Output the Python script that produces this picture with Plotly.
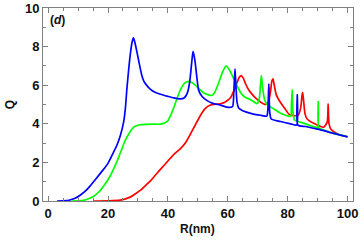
import plotly.graph_objects as go

# Blue series
blue_R = [3, 5, 7, 9, 10.7, 12.5, 14, 16, 18.5, 20, 21.8, 23, 24.1, 25.2, 25.8, 26.3, 26.9, 27.4, 28, 28.5, 29, 29.9,
          30.6, 31.3, 32, 33, 34.1, 35.5, 37.5, 40, 42, 44.1, 45.5, 46.5, 47.3, 47.9, 48.4, 49, 49.6, 50.3, 51.5,
          53.1, 55, 57.5, 60.3, 61.6, 62.0, 62.4, 62.7, 63.1, 63.7, 64.5, 66, 68.6, 71, 73, 73.4, 73.7, 74.0,
          74.5, 77.6, 81, 83.0, 83.2, 83.4, 86, 90, 95, 100]
blue_Q = [0, 0.01, 0.04, 0.14, 0.3, 0.52, 0.77, 1.15, 1.64, 1.95, 2.51, 2.9, 3.38, 4.07, 4.8, 5.8, 6.8, 7.54, 8.2, 8.45, 8.2, 7.54,
          7.0, 6.5, 6.2, 5.98, 5.8, 5.65, 5.53, 5.42, 5.34, 5.29, 5.35, 5.6, 6.2, 7.1, 7.75, 7.3, 6.5, 5.72, 5.4,
          5.2, 5.06, 4.97, 4.85, 4.9, 5.6, 6.85, 6.0, 5.1, 4.8, 4.72, 4.62, 4.5, 4.44, 4.4, 4.8, 6.07, 4.6,
          4.25, 4.12, 4.0, 3.94, 5.5, 3.93, 3.86, 3.72, 3.52, 3.32]

# Green series
green_R = [8, 10, 11.8, 13.5, 15.2, 17, 18.5, 20, 21, 21.8, 22.7, 23.5, 24.4, 25.2, 26, 26.9, 27.7, 28.5, 29.5, 30.8,
           33, 35, 37.5, 39, 40, 40.8, 42, 43, 44, 45, 46, 47.3, 48.5, 50, 52, 53.5, 54.7, 55.7, 57, 58.3, 59.4,
           60.5, 62, 63, 64.2, 65.5, 67.6, 69.8, 70.5, 70.9, 71.2, 71.6, 72.2, 73.1, 75.4, 77.6, 79.8, 81.0, 81.25,
           81.5, 81.75, 82.3, 85, 88.7, 90.0, 90.2, 90.4, 92, 95, 100]
green_Q = [0, 0.01, 0.04, 0.12, 0.25, 0.48, 0.77, 1.1, 1.38, 1.64, 1.95, 2.25, 2.6, 2.94, 3.22, 3.46, 3.66, 3.81, 3.9, 3.95,
           3.97, 3.98, 3.98, 4.05, 4.16, 4.4, 4.85, 5.3, 5.7, 6.0, 6.15, 6.2, 6.08, 5.88, 5.6, 5.5, 5.47, 5.65, 6.15, 6.7, 7.0,
           6.8, 6.33, 6.0, 5.63, 5.4, 5.25, 5.05, 5.3, 6.0, 6.5, 5.9, 5.3, 5.0, 4.77, 4.55, 4.42, 4.38, 5.0,
           5.77, 4.6, 4.2, 4.05, 3.85, 3.82, 5.15, 3.78, 3.68, 3.52, 3.33]

# Red series
red_R = [15, 20, 24.1, 27.4, 29, 30.8, 32.5, 34.1, 35.5, 37.5, 40, 42, 44.1, 46, 47.5, 49, 50.8, 52.5, 54.2, 56, 57.5,
         59, 60.9, 62, 63, 63.8, 64.5, 65.2, 66, 67, 68, 69.5, 71, 72.6, 73.5, 74.2, 74.7, 75.1, 75.5, 76.2, 77.6,
         79, 80.4, 82, 83.5, 84.3, 84.8, 85, 85.3, 85.8, 86.5, 89, 92, 93.2, 93.5, 93.8, 94.5, 97, 100]
red_Q = [0, 0.01, 0.05, 0.2, 0.36, 0.55, 0.8, 1.03, 1.28, 1.64, 2.07, 2.42, 2.7, 3.05, 3.46, 3.9, 4.42, 4.8, 4.97, 5.02, 5.04,
         5.12, 5.35, 5.7, 6.1, 6.4, 6.5, 6.35, 6.05, 5.75, 5.55, 5.3, 5.12, 5.0, 5.1, 5.6, 6.2, 6.33, 6.0, 5.5, 5.1,
         4.8, 4.5, 4.42, 4.45, 4.8, 5.5, 5.63, 5.2, 4.5, 4.25, 4.0, 3.82, 4.1, 5.03, 4.0, 3.7, 3.45, 3.33]

x_ticks = [0, 20, 40, 60, 80, 100]
y_ticks = [0, 2, 4, 6, 8, 10]

fig = go.Figure()
for R, Q, c in [(red_R, red_Q, "#ff0000"), (green_R, green_Q, "#00ff00"), (blue_R, blue_Q, "#0000ff")]:
    fig.add_trace(go.Scatter(x=R, y=Q, mode="lines", line=dict(color=c, width=1.7, shape="spline", smoothing=0.6),
                             showlegend=False, hoverinfo="skip"))

tfont = dict(family="Liberation Sans", size=13, color="#111111", weight="bold")
axis_common = dict(
    showgrid=False, zeroline=False, showline=True, linecolor="#808080", linewidth=1,
    mirror="ticks", ticks="inside", ticklen=5, tickcolor="#808080", tickwidth=1,
    tickfont=tfont, automargin=False,
)
fig.update_xaxes(range=[-1.7, 101.8], tickvals=x_ticks, ticktext=[str(v) for v in x_ticks],
                 minor=dict(ticks="inside", dtick=5, ticklen=3, tickcolor="#808080", showgrid=False),
                 **axis_common)
fig.update_yaxes(range=[0, 10], tickvals=y_ticks, ticktext=[str(v) for v in y_ticks],
                 minor=dict(ticks="inside", dtick=1, ticklen=3, tickcolor="#808080", showgrid=False),
                 **axis_common)
fig.add_annotation(text="<b>(<i>d</i>)</b>", xref="paper", yref="paper", x=0.015, y=0.985,
                   xanchor="left", yanchor="top", showarrow=False,
                   font=dict(family="Liberation Sans", size=12, color="#111111"))
fig.add_annotation(text="<b>R(nm)</b>", xref="paper", yref="paper", x=0.497, y=-0.145,
                   xanchor="center", yanchor="middle", showarrow=False,
                   font=dict(family="Liberation Sans", size=12, color="#111111"))
fig.add_annotation(text="<b>Q</b>", xref="paper", yref="paper", x=-0.106, y=0.497, textangle=-90,
                   xanchor="center", yanchor="middle", showarrow=False,
                   font=dict(family="Liberation Sans", size=12, color="#111111"))
fig.update_layout(width=360, height=245, margin=dict(l=43, r=7, t=8, b=44),
                  plot_bgcolor="white", paper_bgcolor="white")
fig.write_html("out.html", config={"displayModeBar": False},
               post_script="document.body.style.margin='0';document.body.style.overflow='hidden';")
